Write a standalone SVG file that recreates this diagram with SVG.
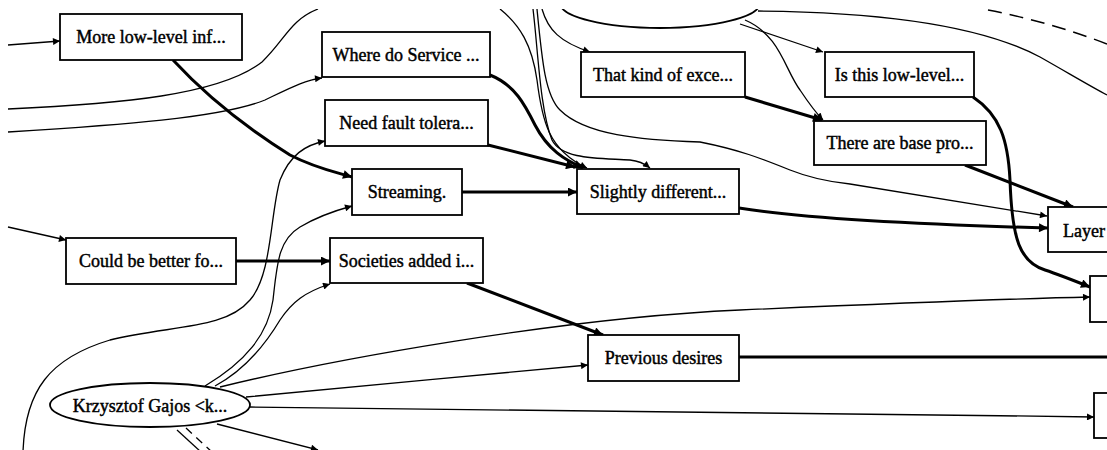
<svg xmlns="http://www.w3.org/2000/svg" width="1107" height="450" viewBox="0 0 1107 450">
  <defs>
    <style>
      .box { fill: #fff; stroke: #000; stroke-width: 1.8; }
      .lbl { font-family: "Liberation Serif", "Times New Roman", serif; font-size: 18px; fill: #000; stroke: #000; stroke-width: 0.45; text-anchor: middle; }
      .thin { fill: none; stroke: #000; stroke-width: 1.3; }
      .thick { fill: none; stroke: #000; stroke-width: 3; }
      .dash { fill: none; stroke: #000; stroke-width: 1.5; stroke-dasharray: 14 8; }
    </style>
    <marker id="ah" viewBox="0 0 10 10" refX="10" refY="5" markerUnits="userSpaceOnUse" markerWidth="12" markerHeight="7" orient="auto">
      <path d="M0,0 L10,5 L0,10 z" fill="#000"/>
    </marker>
    <marker id="ahb" viewBox="0 0 10 10" refX="10" refY="5" markerUnits="userSpaceOnUse" markerWidth="14" markerHeight="9" orient="auto">
      <path d="M0,0 L10,5 L0,10 z" fill="#000"/>
    </marker>
    <clipPath id="page">
      <rect x="0" y="9" width="1107" height="441"/>
    </clipPath>
  </defs>

  <rect x="0" y="0" width="1107" height="450" fill="#fff"/>

  <g clip-path="url(#page)">
    <!-- connectors -->
    <g id="connectors">
      <!-- thin edges -->
      <path class="thin" d="M8,45 L60,41" marker-end="url(#ah)"/>
      <path class="thin" d="M8,109 C120,104 220,95 262,62 C285,40 290,20 318,9"/>
      <path class="thin" d="M8,132 C120,125 220,118 265,100 C290,88 305,80 322,78" marker-end="url(#ah)"/>
      <path class="thin" d="M23,452 C25,390 50,358 110,340 C170,325 225,330 250,300 C272,275 270,215 280,180 C290,155 305,145 325,141" marker-end="url(#ah)"/>
      <path class="thin" d="M205,386 C245,362 268,335 273,300 C277,265 278,240 300,227 C315,218 330,212 352,206" marker-end="url(#ah)"/>
      <path class="thin" d="M215,386 C245,370 265,345 280,320 C292,302 305,292 330,284" marker-end="url(#ah)"/>
      <path class="thin" d="M220,387 C330,360 560,318 740,310 C900,303 1000,299 1090,297" marker-end="url(#ah)"/>
      <path class="thin" d="M246,397 C350,387 480,375 588,365" marker-end="url(#ah)"/>
      <path class="thin" d="M250,407 C500,410 800,413 1094,417" marker-end="url(#ah)"/>
      <path class="thin" d="M217,424 L318,450" marker-end="url(#ah)"/>
      <path class="thin" d="M177,430 L201,452"/>
      <path class="thin" d="M186,428 L212,452" stroke-dasharray="8 6"/>
      <path class="thin" d="M8,227 L66,240" marker-end="url(#ah)"/>

      <path class="thin" d="M500,9 C520,25 532,45 537,80 C542,120 548,150 587,168" marker-end="url(#ah)"/>
      <path class="thin" d="M533,9 C538,50 540,110 552,140 C562,160 600,158 630,160 C640,161 645,164 650,168" marker-end="url(#ah)"/>
      <path class="thin" d="M537,9 C542,60 545,95 560,110 C585,135 640,140 700,142 C740,150 760,158 790,170 C810,178 830,182 850,184 C930,197 1000,208 1047,216" marker-end="url(#ah)"/>
      <path class="thin" d="M542,9 C548,30 560,42 590,52" marker-end="url(#ah)"/>

      <path class="thin" d="M740,24 L823,52" marker-end="url(#ah)"/>
      <path class="thin" d="M745,20 C780,35 785,70 800,90 C810,105 815,112 823,120" marker-end="url(#ah)"/>
      <path class="thin" d="M758,11 C880,12 980,25 1040,57 C1070,74 1090,86 1107,95"/>
      <path class="dash" d="M988,10 Q1050,22 1107,44"/>

      <!-- thick edges -->
      <path class="thick" d="M173,60 C210,100 250,130 290,155 C315,168 335,172 352,177" marker-end="url(#ahb)"/>
      <path class="thick" d="M490,75 C515,85 525,105 535,125 C548,150 565,160 583,168" marker-end="url(#ahb)"/>
      <path class="thick" d="M488,145 L575,167" marker-end="url(#ahb)"/>
      <path class="thick" d="M462,192 L577,192" marker-end="url(#ahb)"/>
      <path class="thick" d="M745,97 L822,120" marker-end="url(#ahb)"/>
      <path class="thick" d="M236,261 L330,261" marker-end="url(#ahb)"/>
      <path class="thick" d="M739,208 C800,218 900,224 1048,228" marker-end="url(#ahb)"/>
      <path class="thick" d="M965,165 L1073,207" marker-end="url(#ahb)"/>
      <path class="thick" d="M973,97 C1000,115 1008,140 1010,180 C1012,240 1020,262 1045,270 C1060,275 1075,281 1090,287" marker-end="url(#ahb)"/>
      <path class="thick" d="M467,283 L603,335" marker-end="url(#ahb)"/>
      <path class="thick" d="M739,357 L1107,357"/>
    </g>

    <!-- nodes -->
    <g id="n-top">
      <ellipse cx="660" cy="3" rx="100" ry="25" fill="#fff" stroke="#000" stroke-width="1.8"/>
    </g>
    <g id="n-more-low-level">
      <rect class="box" x="60" y="14" width="182" height="46"/>
      <text class="lbl" x="151" y="43">More low-level inf...</text>
    </g>
    <g id="n-where-do-service">
      <rect class="box" x="322" y="32" width="168" height="45"/>
      <text class="lbl" x="406" y="61">Where do Service ...</text>
    </g>
    <g id="n-need-fault">
      <rect class="box" x="325" y="100" width="163" height="46"/>
      <text class="lbl" x="406.5" y="129">Need fault tolera...</text>
    </g>
    <g id="n-that-kind">
      <rect class="box" x="581" y="52" width="164" height="45"/>
      <text class="lbl" x="663" y="81">That kind of exce...</text>
    </g>
    <g id="n-is-this">
      <rect class="box" x="825" y="52" width="149" height="45"/>
      <text class="lbl" x="899.5" y="81">Is this low-level...</text>
    </g>
    <g id="n-base-pro">
      <rect class="box" x="814" y="121" width="172" height="44"/>
      <text class="lbl" x="900" y="149">There are base pro...</text>
    </g>
    <g id="n-streaming">
      <rect class="box" x="352" y="169" width="110" height="46"/>
      <text class="lbl" x="407" y="198">Streaming.</text>
    </g>
    <g id="n-slightly">
      <rect class="box" x="577" y="169" width="162" height="45"/>
      <text class="lbl" x="658" y="198">Slightly different...</text>
    </g>
    <g id="n-layer">
      <rect class="box" x="1048" y="207" width="80" height="45"/>
      <text class="lbl" x="1084" y="237">Layer</text>
    </g>
    <g id="n-could-be">
      <rect class="box" x="66" y="238" width="170" height="46"/>
      <text class="lbl" x="151" y="267">Could be better fo...</text>
    </g>
    <g id="n-societies">
      <rect class="box" x="330" y="238" width="153" height="45"/>
      <text class="lbl" x="406.5" y="267">Societies added i...</text>
    </g>
    <g id="n-previous">
      <rect class="box" x="588" y="335" width="151" height="46"/>
      <text class="lbl" x="663.5" y="364">Previous desires</text>
    </g>
    <g id="n-right-a">
      <rect class="box" x="1090" y="276" width="40" height="46"/>
    </g>
    <g id="n-right-b">
      <rect class="box" x="1094" y="393" width="40" height="45"/>
    </g>
    <g id="n-gajos">
      <ellipse cx="150" cy="405" rx="100" ry="22" fill="#fff" stroke="#000" stroke-width="1.8"/>
      <text class="lbl" x="150" y="412">Krzysztof Gajos &lt;k...</text>
    </g>
  </g>
</svg>
